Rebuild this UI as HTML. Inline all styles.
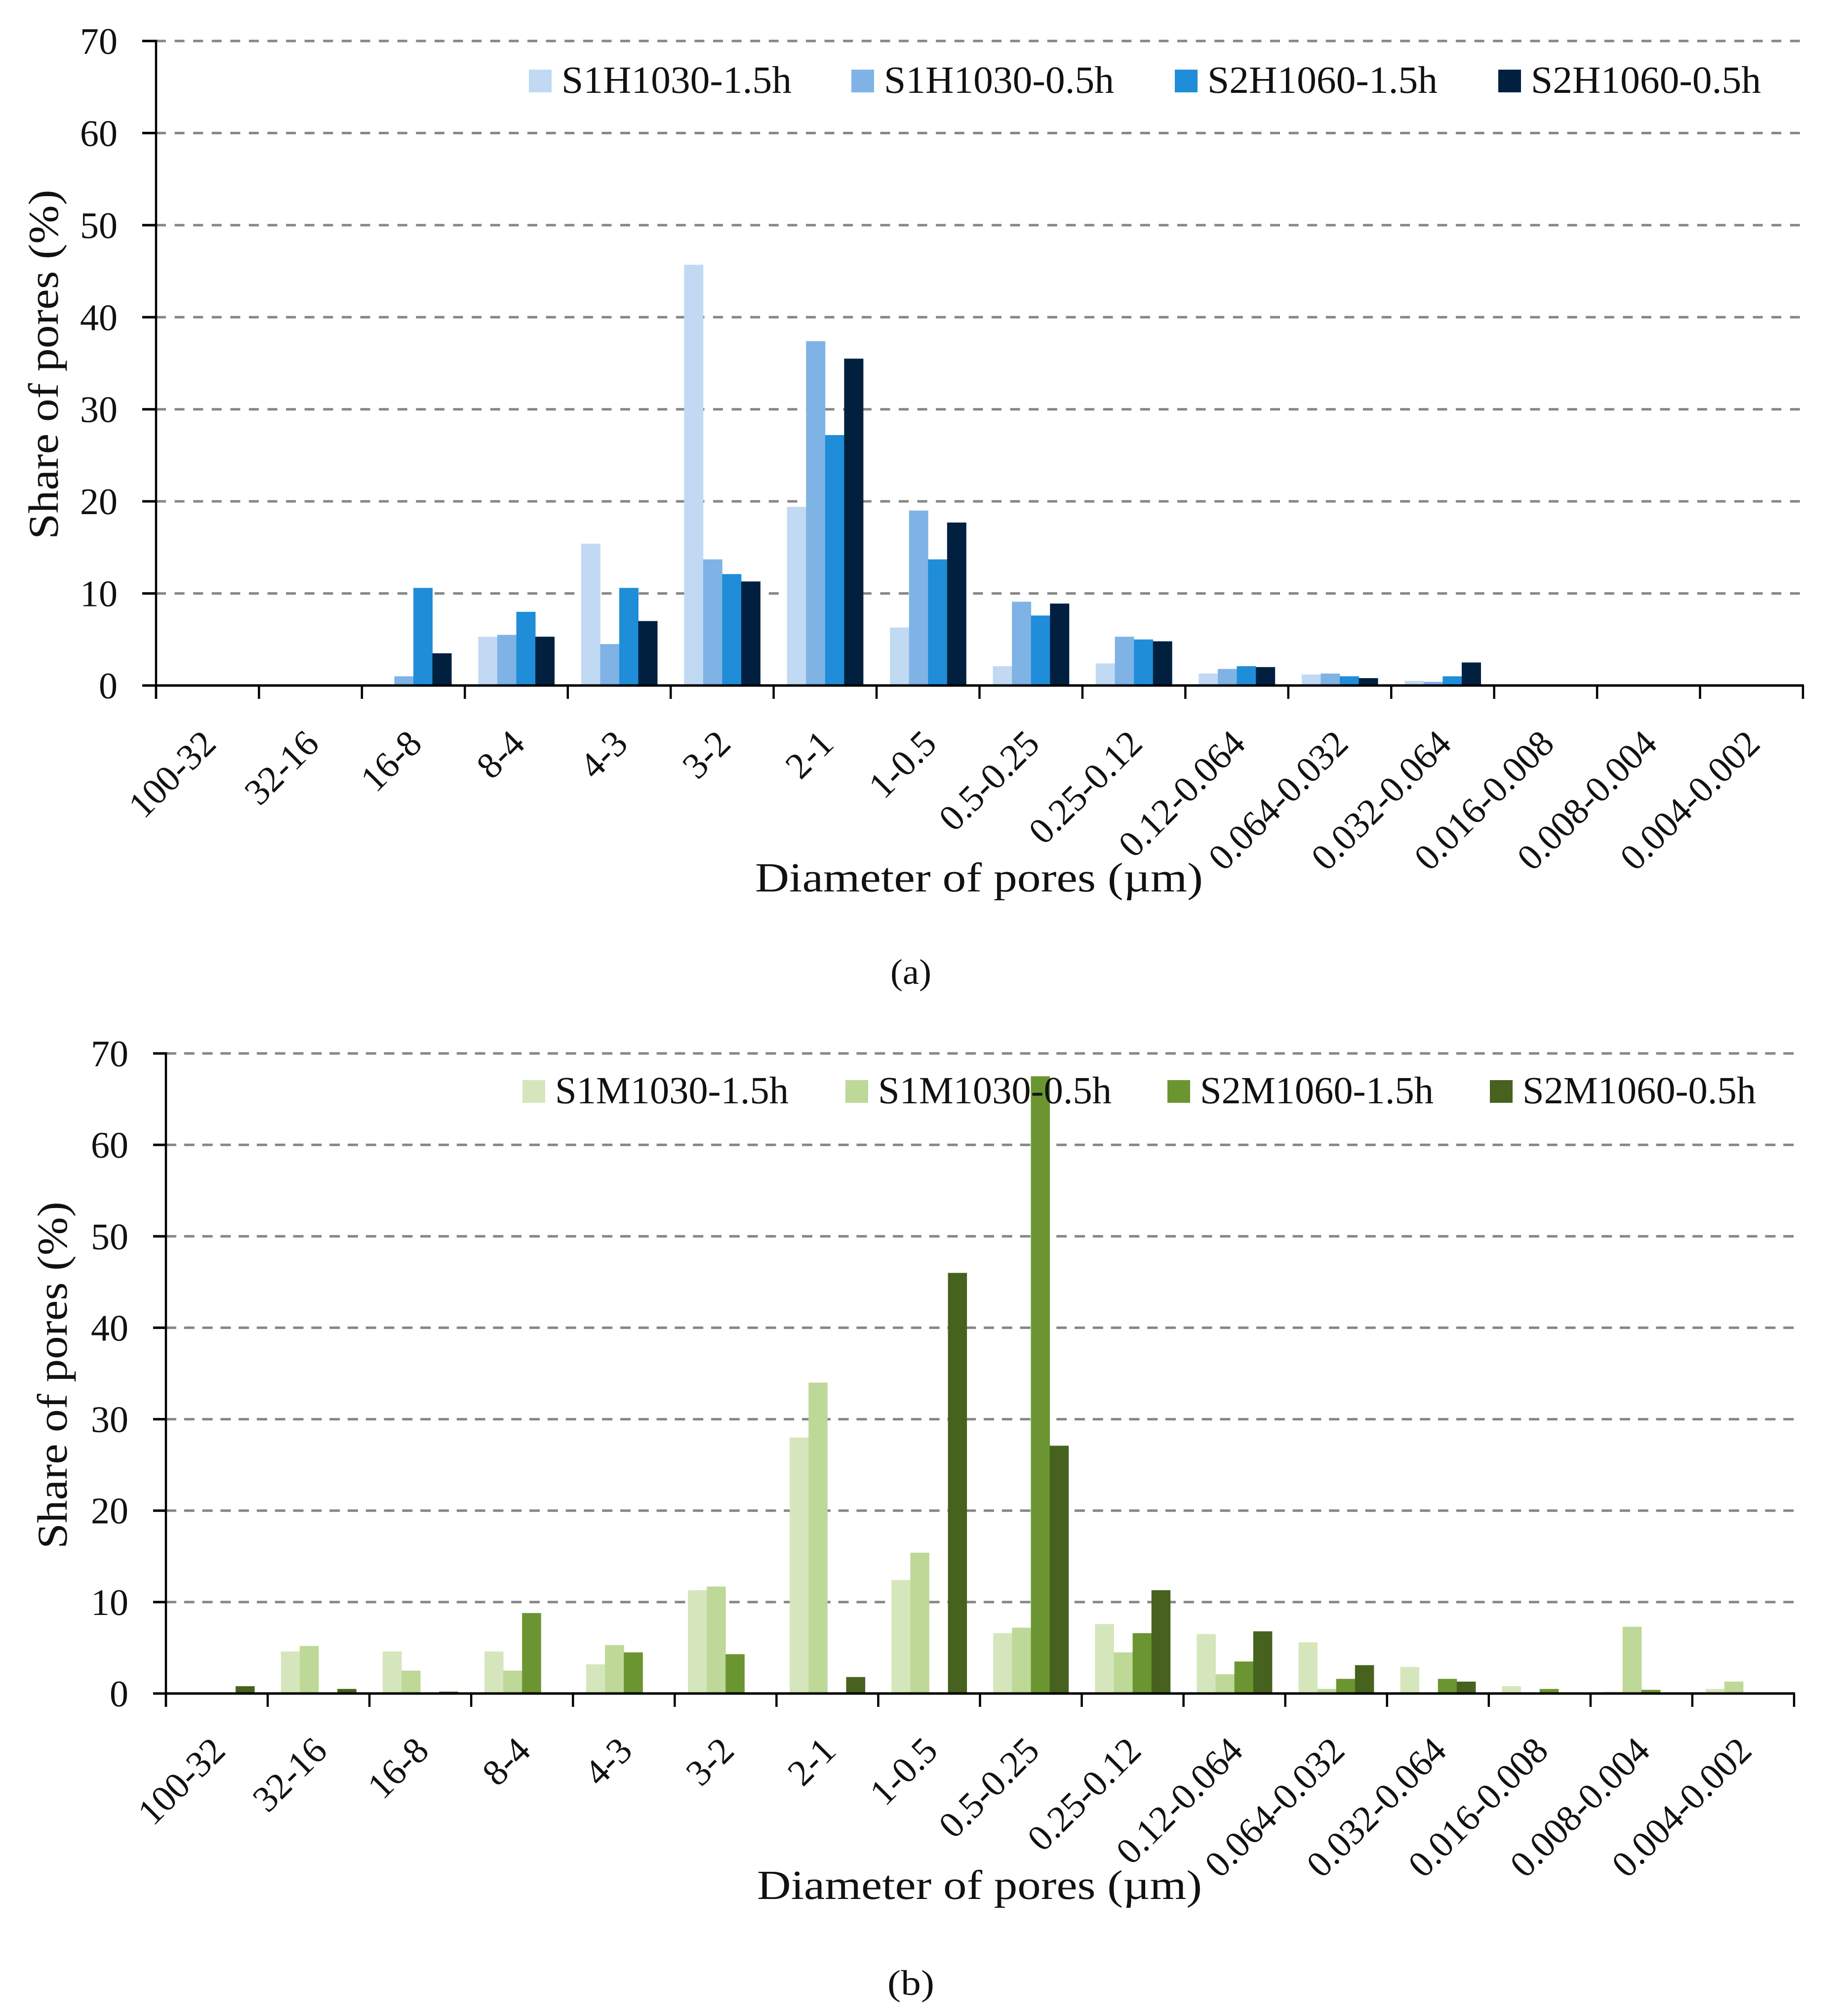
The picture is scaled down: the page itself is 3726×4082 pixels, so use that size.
<!DOCTYPE html>
<html lang="en">
<head>
<meta charset="utf-8">
<title>Share of pores by pore diameter</title>
<style>
html,body{margin:0;padding:0;background:#fff;}
svg{display:block;font-family:"Liberation Serif",serif;text-rendering:geometricPrecision;fill:#111;}
</style>
</head>
<body>
<svg id="figure" xmlns="http://www.w3.org/2000/svg" width="3726" height="4082" viewBox="0 0 3726 4082">
<rect x="0" y="0" width="3726" height="4082" fill="#ffffff"/>
</svg>
<script>
const categories = ["100-32","32-16","16-8","8-4","4-3","3-2","2-1","1-0.5","0.5-0.25","0.25-0.12","0.12-0.064","0.064-0.032","0.032-0.064","0.016-0.008","0.008-0.004","0.004-0.002"];
const yTickValues = [0,10,20,30,40,50,60,70];

const seriesNamesA = ["S1H1030-1.5h","S1H1030-0.5h","S2H1060-1.5h","S2H1060-0.5h"];
const s1h1030h15 = [0,0,0,5.3,15.4,45.7,19.4,6.3,2.1,2.4,1.3,1.2,0.5,0,0,0];
const s1h1030h05 = [0,0,1.0,5.5,4.5,13.7,37.4,19.0,9.1,5.3,1.8,1.3,0.4,0,0,0];
const s2h1060h15 = [0,0,10.6,8.0,10.6,12.1,27.2,13.7,7.6,5.0,2.1,1.0,1.0,0,0,0];
const s2h1060h05 = [0,0,3.5,5.3,7.0,11.3,35.5,17.7,8.9,4.8,2.0,0.8,2.5,0,0,0];

const seriesNamesB = ["S1M1030-1.5h","S1M1030-0.5h","S2M1060-1.5h","S2M1060-0.5h"];
const s1m1030h15 = [0,4.6,4.6,4.6,3.2,11.3,28.0,12.4,6.6,7.6,6.5,5.6,2.9,0.8,0.2,0.5];
const s1m1030h05 = [0,5.2,2.5,2.5,5.3,11.7,34.0,15.4,7.2,4.5,2.1,0.5,0,0,7.3,1.3];
const s2m1060h15 = [0,0,0,8.8,4.5,4.3,0,0,67.5,6.6,3.5,1.6,1.6,0.5,0.4,0];
const s2m1060h05 = [0.8,0.5,0.2,0,0,0,1.8,46.0,27.1,11.3,6.8,3.1,1.3,0,0,0];

const svgRoot = document.getElementById('figure');
const SVG_NS = 'http://www.w3.org/2000/svg';

function setAll(el, attrs) {
  for (const k in attrs) el.setAttribute(k, attrs[k]);
  return el;
}

function drawChart(c) {
  const g = document.createElementNS(SVG_NS, 'g');
  
  
  svgRoot.appendChild(g);

  const yScale = v => c.y0 - (v / 70) * (c.y0 - c.y70);
  const groupW = (c.xEnd - c.x0) / categories.length;
  const xBand = i => c.x0 + i * groupW;
  const barW = groupW * 0.74 / 4;
  const pad = groupW * 0.13;

  yTickValues.forEach(v => {
    if (v > 0) {
      const grid = document.createElementNS(SVG_NS, 'line');
      setAll(grid, {x1: c.x0, x2: c.xEnd, y1: yScale(v), y2: yScale(v), stroke: '#868686', 'stroke-width': 5, 'stroke-dasharray': c.dash});
      
      
      g.appendChild(grid);
    }
  });

  c.series.forEach((vals, s) => {
    vals.forEach((v, i) => {
      if (v <= 0) return;
      const bar = document.createElementNS(SVG_NS, 'rect');
      setAll(bar, {x: xBand(i) + pad + s * barW, y: yScale(v), width: barW + 0.4, height: c.y0 - yScale(v), fill: c.colors[s]});
      
      
      g.appendChild(bar);
    });
  });

  const yAxis = document.createElementNS(SVG_NS, 'line');
  setAll(yAxis, {x1: c.x0, x2: c.x0, y1: c.y70 - 2.5, y2: c.y0 + 27, stroke: '#000', 'stroke-width': 4.5});
  
  
  g.appendChild(yAxis);

  const xAxis = document.createElementNS(SVG_NS, 'line');
  setAll(xAxis, {x1: c.x0 - c.tickOut, x2: c.xEnd + 2, y1: c.y0, y2: c.y0, stroke: '#000', 'stroke-width': 5});
  
  
  g.appendChild(xAxis);

  yTickValues.forEach(v => {
    const tick = document.createElementNS(SVG_NS, 'line');
    setAll(tick, {x1: c.x0 - c.tickOut, x2: c.x0, y1: yScale(v), y2: yScale(v), stroke: '#000', 'stroke-width': 5});
    
    
    g.appendChild(tick);

    const label = document.createElementNS(SVG_NS, 'text');
    setAll(label, {x: c.yLabelX, y: yScale(v) + 26, 'text-anchor': 'end', 'font-size': 76});
    label.textContent = String(v);
    
    
    g.appendChild(label);
  });

  for (let i = 0; i <= categories.length; i++) {
    const tick = document.createElementNS(SVG_NS, 'line');
    setAll(tick, {x1: xBand(i), x2: xBand(i), y1: c.y0, y2: c.y0 + 27, stroke: '#000', 'stroke-width': 4.5});
    
    
    g.appendChild(tick);
  }

  categories.forEach((name, i) => {
    const bx = xBand(i) + groupW / 2 + 21;
    const by = c.y0 + c.xLabelDrop;
    const label = document.createElementNS(SVG_NS, 'text');
    setAll(label, {x: bx, y: by, 'text-anchor': 'end', 'font-size': 75, transform: 'rotate(-45 ' + bx + ' ' + by + ')'});
    label.textContent = name;
    
    
    g.appendChild(label);
  });

  const yTitle = document.createElementNS(SVG_NS, 'text');
  setAll(yTitle, {x: c.yTitle.x, y: c.yTitle.y, 'font-size': 86, textLength: c.yTitle.len, lengthAdjust: 'spacingAndGlyphs', transform: 'rotate(-90 ' + c.yTitle.x + ' ' + c.yTitle.y + ')'});
  yTitle.textContent = 'Share of pores (%)';
  
  
  g.appendChild(yTitle);

  const xTitle = document.createElementNS(SVG_NS, 'text');
  setAll(xTitle, {x: c.xTitle.x, y: c.xTitle.y, 'font-size': 84, textLength: c.xTitle.len, lengthAdjust: 'spacingAndGlyphs'});
  xTitle.textContent = 'Diameter of pores (\u00B5m)';
  
  
  g.appendChild(xTitle);

  const caption = document.createElementNS(SVG_NS, 'text');
  setAll(caption, {x: c.caption.x, y: c.caption.y, 'font-size': 72, textLength: c.caption.len, lengthAdjust: 'spacingAndGlyphs'});
  caption.textContent = c.caption.text;
  
  
  g.appendChild(caption);

  c.names.forEach((name, s) => {
    const swatch = document.createElementNS(SVG_NS, 'rect');
    setAll(swatch, {x: c.legendSwatchX[s], y: c.legendY, width: 46, height: 46, fill: c.colors[s]});
    
    
    g.appendChild(swatch);

    const text = document.createElementNS(SVG_NS, 'text');
    setAll(text, {x: c.legendSwatchX[s] + 66, y: c.legendY + 47, 'font-size': 78, textLength: c.legendLen, lengthAdjust: 'spacingAndGlyphs'});
    text.textContent = name;
    
    
    g.appendChild(text);
  });
}

drawChart({
  id: 'panel-a', names: seriesNamesA,
  series: [s1h1030h15, s1h1030h05, s2h1060h15, s2h1060h05],
  colors: ['#C1D9F3', '#7FB3E6', '#1F8DD8', '#01203F'],
  x0: 316, xEnd: 3651, y0: 1388, y70: 83, tickOut: 28, dash: '20 17.6',
  yLabelX: 238, xLabelDrop: 122,
  yTitle: {x: 117, y: 1092, len: 708},
  xTitle: {x: 1529, y: 1805, len: 907},
  caption: {x: 1803, y: 1992, len: 83, text: '(a)'},
  legendSwatchX: [1071, 1724, 2379, 3034], legendY: 141, legendLen: 466
});

drawChart({
  id: 'panel-b', names: seriesNamesB,
  series: [s1m1030h15, s1m1030h05, s2m1060h15, s2m1060h05],
  colors: ['#D5E6BC', '#BED898', '#6B9531', '#46621E'],
  x0: 336, xEnd: 3633, y0: 3429, y70: 2133, tickOut: 26, dash: '21 15.8',
  yLabelX: 260, xLabelDrop: 120,
  yTitle: {x: 135, y: 3136, len: 703},
  xTitle: {x: 1533, y: 3845, len: 901},
  caption: {x: 1797, y: 4039, len: 95, text: '(b)'},
  legendSwatchX: [1058, 1712, 2364, 3017], legendY: 2187, legendLen: 473
});
</script>
</body>
</html>
